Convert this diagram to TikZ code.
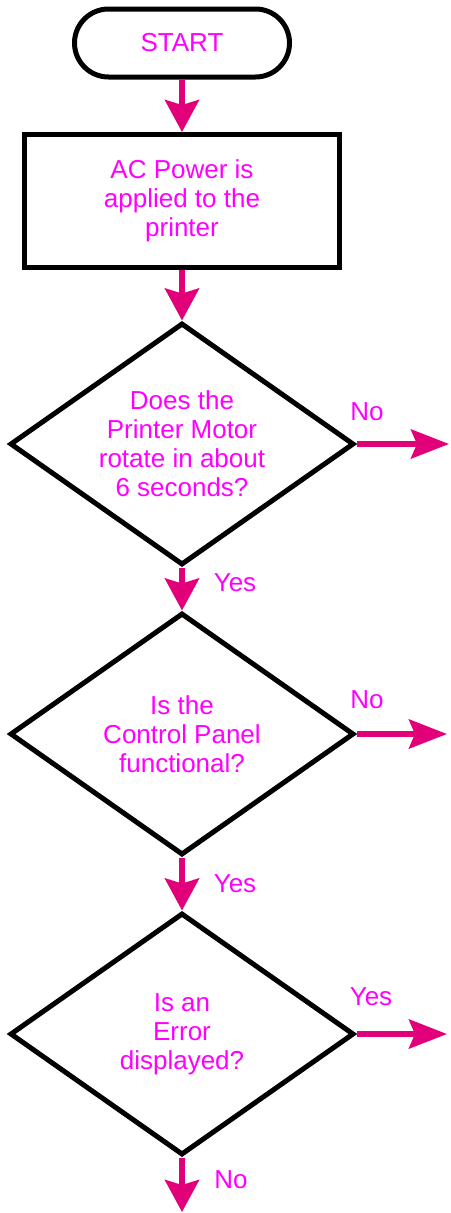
\documentclass[tikz,border=0pt]{standalone}
\usepackage{fontspec}
\setmainfont{Liberation Sans}
\definecolor{flowpink}{RGB}{226,0,122}
\definecolor{textpink}{RGB}{255,0,255}
\usetikzlibrary{arrows.meta, positioning, shapes.geometric}

\begin{document}
\begin{tikzpicture}[
    x=1pt, y=-1pt,
    every node/.style={align=center, font=\fontsize{26}{29}\selectfont, text=textpink},
    terminal/.style={rectangle, draw=black, line width=5pt, rounded corners=34pt, minimum width=215pt, minimum height=68pt, inner sep=0pt},
    procbox/.style={rectangle, draw=black, line width=5pt, minimum width=315pt, minimum height=133pt, inner sep=0pt},
    decision/.style={diamond, draw=black, line width=5pt, aspect=1.42, minimum width=344pt, minimum height=242pt, inner sep=0pt},
    lbl/.style={inner sep=0pt},
    downarrow/.style={-{Stealth[length=32pt, width=34pt, inset=5pt]}, line width=5.5pt, draw=flowpink},
    sidearrow/.style={-{Stealth[length=38pt, width=29pt, inset=6pt]}, line width=5.5pt, draw=flowpink}
]
\useasboundingbox (0,0) rectangle (450,1213);
\node[terminal] (start) at (182,43) {START};
\node[procbox] (power) at (182,201) {AC Power is\\applied to the\\printer};
\node[decision] (motor) at (182,444) {Does the\\Printer Motor\\rotate in about\\6 seconds?};
\node[decision] (panel) at (182,734) {Is the\\Control Panel\\functional?};
\node[decision] (error) at (182,1034) {Is an\\Error\\displayed?};
\coordinate (motorno) at (449,444);
\coordinate (panelno) at (447,734);
\coordinate (erroryes) at (447,1034);
\coordinate (errorno) at (182,1212);
% branch labels
\node[lbl] (motornolbl) at (367,412) {No};
\node[lbl] (motoryeslbl) at (235,583) {Yes};
\node[lbl] (panelnolbl) at (367,700) {No};
\node[lbl] (panelyeslbl) at (235,884) {Yes};
\node[lbl] (erroryeslbl) at (371,997) {Yes};
\node[lbl] (errornolbl) at (231,1180) {No};
% connectors
\draw[downarrow] (start) -- (power);
\draw[downarrow] (power) -- (motor);
\draw[downarrow] (motor) -- (panel);
\draw[downarrow] (panel) -- (error);
\draw[downarrow] (error) -- (errorno);
\draw[sidearrow] (motor.east) -- (motorno);
\draw[sidearrow] (panel.east) -- (panelno);
\draw[sidearrow] (error.east) -- (erroryes);
\end{tikzpicture}
\end{document}
